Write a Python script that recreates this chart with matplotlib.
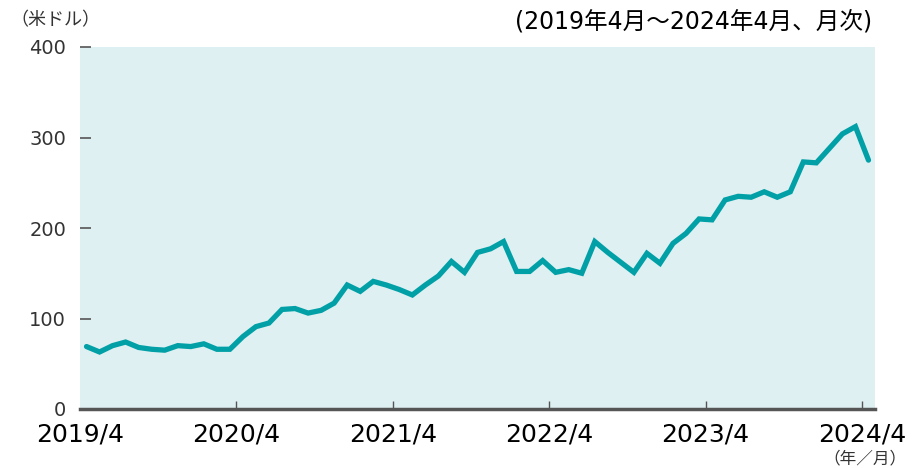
import matplotlib.pyplot as plt
import numpy as np

plt.rcParams['font.family'] = ['DejaVu Sans', 'Noto Sans CJK JP']

# 月次データ 2019/4 ~ 2024/4 (米ドル)
values = [69, 63, 70, 74, 68, 66, 65, 70, 69, 72, 66, 66,
          80, 91, 95, 110, 111, 106, 109, 117, 137, 130, 141, 137,
          132, 126, 137, 147, 163, 151, 173, 177, 185, 152, 152, 164,
          151, 154, 150, 185, 173, 162, 151, 172, 161, 183, 194, 210,
          209, 231, 235, 234, 240, 234, 240, 273, 272, 288, 304, 312,
          275]
tick_labels = ['2019/4', '2020/4', '2021/4', '2022/4', '2023/4', '2024/4']
y_ticks = [0, 100, 200, 300, 400]

x = np.arange(len(values))

fig = plt.figure(figsize=(9.13, 4.68), dpi=100)
ax = fig.add_axes([80 / 913, 1 - 409 / 468, 795 / 913, 362 / 468])
ax.set_facecolor('#dff0f3')

ax.plot(x, values, color='#00a0a6', linewidth=3.8, solid_joinstyle='miter',
        solid_capstyle='round')

ax.set_xlim(-0.5, len(values) - 0.5)
ax.set_ylim(0, 400)

for s in ['top', 'right', 'left']:
    ax.spines[s].set_visible(False)
ax.spines['bottom'].set_color('#555555')
ax.spines['bottom'].set_linewidth(2.5)

ax.set_yticks(y_ticks)
ax.set_yticklabels([str(v) for v in y_ticks], fontsize=14, color='#333333')
ax.tick_params(axis='y', direction='in', length=8, width=1.2, color='#555555', pad=10)

ax.set_xticks(np.arange(0, len(values), 12) - 0.5)
ax.set_xticklabels(tick_labels, fontsize=18, color='black')
ax.tick_params(axis='x', direction='in', length=6, width=1, color='#555555', pad=10)
ax.get_xticklines()[0].set_visible(False)

fig.text(10 / 913, 1 - 20 / 468, '（米ドル）', fontsize=13, color='#333333',
         va='center', ha='left', family=['Noto Sans CJK JP'])
fig.text(872 / 913, 1 - 22 / 468, '(2019年4月～2024年4月、月次)', fontsize=17,
         va='center', ha='right', family=['DejaVu Sans', 'Noto Sans CJK JP'])
fig.text(906 / 913, 1 - 459 / 468, '（年／月）', fontsize=12, color='#333333',
         va='center', ha='right', family=['Noto Sans CJK JP'])

fig.savefig('out.png', dpi=100)
